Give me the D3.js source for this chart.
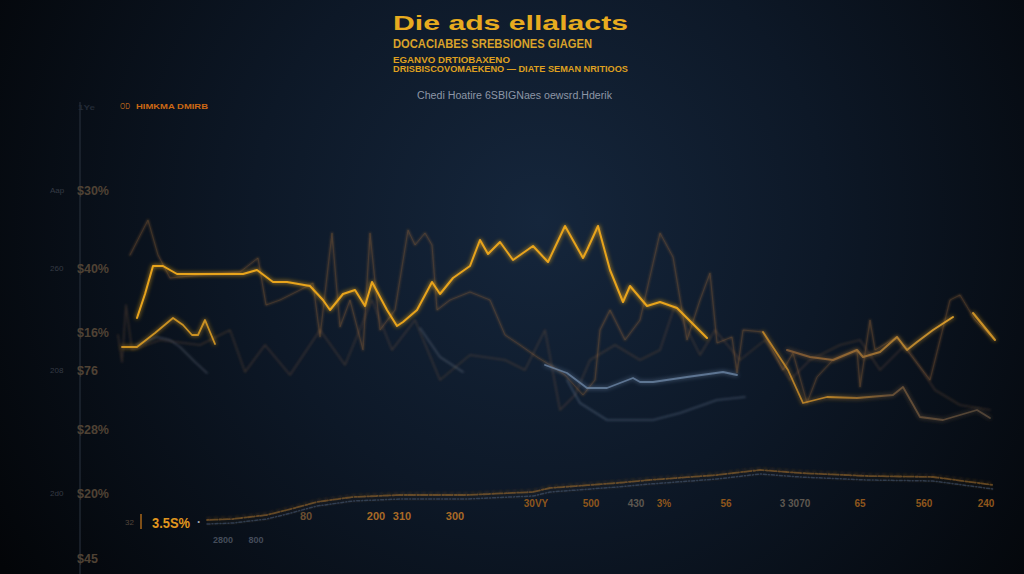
<!DOCTYPE html>
<html>
<head>
<meta charset="utf-8">
<script src="https://cdn.jsdelivr.net/npm/d3@7"></script>
<style>
body{margin:0;background:#05070b;overflow:hidden}
svg{display:block}
text{font-family:"Liberation Sans",Arial,sans-serif}
</style>
</head>
<body>
<div id="chart"></div>
<script>
// series values, [week, percent]
const goldMain = [[1.9,63],[2.7,69],[3.5,76],[4.5,76],[5.9,74],[8.5,74],[12.5,74],[13.9,75],[15.5,72],[16.9,72],[19.2,71],[20.5,67.5],[21.2,65],[22.5,69],[23.7,70],[24.7,66],[25.4,72],[26.9,65],[27.9,61],[28.5,62],[29.9,65],[31.4,72],[32.2,69],[33.5,73],[35.2,76],[36.2,82.5],[37,79],[38.2,82],[39.5,77.5],[41.5,81],[43,77],[44.7,86],[46.5,78],[46.9,80],[48,86],[49.2,75],[50.5,67],[51.2,71],[52.9,66],[54.2,67],[55.9,65.5],[58.9,58]]
const goldLow = [[0.4,55.75],[1.9,55.75],[3.7,59.25],[5.5,63],[6.5,61.25],[7.4,58.75],[8,58.75],[8.7,62.5],[9.7,56.5]]
const goldDrop = [[64.5,59.5],[67,50],[68.5,41.75],[70.9,43.25],[73.9,43],[77.5,43.75],[78.5,45.75],[80.2,38.25],[82.5,37.5],[85.9,40],[87.2,38]]
const goldRise = [[66.9,55],[69.2,53.25],[71.5,52.5],[73.9,55],[74.5,53.25],[76.2,54.5],[77.9,58.25],[78.9,55],[79.9,57],[81.5,60],[83.5,63.25]]
const goldEnd = [[85.5,64.25],[87.7,57.5]]
const blueLine = [[42.7,51.25],[44.9,49.25],[46.9,45.5],[48.9,45.5],[51.5,48],[52.2,47],[53.5,47],[56.9,48.25],[60.5,49.5],[61.9,48.75]]
const greyLow = [[44.9,47.5],[46.2,41.75],[48.9,37.5],[53.5,37.5],[56.2,39.25],[59.9,42.5],[62.7,43.25]]
const greyLeft = [[1.9,56.25],[3.9,58.25],[5.2,57.5],[6.2,55.75],[7.7,52],[8.9,49.25]]
const greyMid = [[30.2,60.5],[32.2,53.25],[34.5,49.5]]
const spikesA = [[1.2,78.75],[3,87.5],[4,78.75],[5.2,73],[8.2,73.75],[12.2,74.5],[14,78],[14.8,66.25],[16.2,67.5],[18.2,70],[19.5,71.75],[20.2,58.25],[21.4,84.25],[22.2,60.75],[23.2,67.5],[24.5,55],[25.2,84.25],[26.2,60],[27.7,65],[29,85],[29.7,81.25],[30.7,84.25],[31.4,81.25],[31.9,65],[33.2,67.5],[35.2,69.5],[37.2,67.5],[38.7,58.75],[40.2,56.25],[41.9,53.25],[43.2,51.25],[44.7,48.75],[46.5,43.75],[47.7,47.5],[48.2,60],[49.2,65],[50.7,57.5],[52.2,62.5],[54.2,84.25],[55.5,78.25],[56.9,57.5],[58.2,67.5],[59.2,74.25],[59.9,56.75],[61.4,58.25],[61.9,49.25],[62.5,60],[64.5,59.5],[66.5,50],[67.5,54.25],[68.9,41.75],[69.9,48.25],[71.5,52.5],[73.9,55],[74.2,45.75],[75.2,62.5],[75.7,55],[77.9,58.25],[78.9,55],[81.2,47.5],[83.2,67.5],[84.2,68.75],[85.7,62.5],[87.2,58.75]]
const spikesB = [[0,58.75],[0.4,52],[0.8,66.25],[1.4,55],[4.2,57.5],[8.2,56.25],[11.2,60],[12.7,49.5],[14.7,56.25],[17.2,48.75],[20.2,60],[22.7,51.25],[25.4,67.5],[27.4,55],[29.7,62.5],[32.2,47.5],[35.2,53.75],[38.7,52.5],[40.7,50],[42.7,60],[44.2,40],[45.7,43.75],[47.2,52.5],[49.7,56.25],[52.2,52.5],[54.2,55],[55.7,66.25],[58.2,53.75],[59.7,60],[62.2,52.5],[64.7,57.5],[67.2,47.5],[69.2,52.5],[72.2,56.25],[74.2,57.5],[76.2,50],[78.7,56.25],[81.7,45],[84.2,41.25],[87.2,40]]
const trend = [[8.9,12.5],[11.5,12.75],[14.9,13.75],[16.9,15],[19.9,17],[23.5,18.25],[28.2,18.75],[34.9,18.75],[41.5,19.5],[43.2,20.5],[49.9,21.75],[53.2,22.5],[59.9,23.75],[64.2,25],[68.2,24.25],[74.9,23.5],[81.5,23.25],[87.5,21.25]]

// y ticks
const yTickValues = [95,75.5,59.5,50,35.25,19.25,3]
const yTickLabels = ["$30%","$40%","$16%","$76","$28%","$20%","$45"]
const yTickPrefix = ["Aap","260","","208","","2d0",""]

// x tick rows
const xTickValues = [41.8,47.3,51.8,54.6,60.8,67.7,74.2,80.6,86.8]
const xTickLabels = ["30VY","500","430","3%","56","3 3070","65","560","240"]
const xTick2Values = [18.8,25.8,28.4,33.7]
const xTick2Labels = ["80","200","310","300"]
const xTick3Values = [10.5,13.8]
const xTick3Labels = ["2800","800"]

const width = 1024, height = 574
const svg = d3.select("#chart").append("svg").attr("width",width).attr("height",height)
const defs = svg.append("defs")

//background
const bg = defs.append("radialGradient").attr("id","bg").attr("gradientUnits","userSpaceOnUse")
    .attr("cx",540).attr("cy",220).attr("r",640)
bg.selectAll("stop").data([[0,"#15263c"],[0.45,"#0d1827"],[1,"#030508"]]).join("stop")
    .attr("offset",d=>d[0]).attr("stop-color",d=>d[1])
svg.append("rect").attr("width",width).attr("height",height).attr("fill","url(#bg)")

//glow filters
function addBlur(id, dev, keep){
    const f = defs.append("filter").attr("id",id).attr("x","-20%").attr("y","-20%").attr("width","140%").attr("height","140%")
    f.append("feGaussianBlur").attr("in","SourceGraphic").attr("stdDeviation",dev).attr("result","b")
    if(keep){
        const m = f.append("feMerge")
        m.append("feMergeNode").attr("in","b")
        m.append("feMergeNode").attr("in","SourceGraphic")
    }
}
addBlur("glow",2,true)
addBlur("soft",1,false)
addBlur("haze",0.6,false)

const xScale = d3.scaleLinear().domain([0,88]).range([118,998])
const yScale = d3.scaleLinear().domain([0,100]).range([570,170])
const line = d3.line().x(d=>xScale(d[0])).y(d=>yScale(d[1]))

//axis line
svg.append("line").attr("x1",80).attr("x2",80).attr("y1",102).attr("y2",574)
    .attr("stroke","#262e3a").attr("stroke-width",1.2)

//titles
function label(txt,x,y,size,color,weight,len,anchor){
    const t = svg.append("text").attr("x",x).attr("y",y).text(txt)
        .attr("font-size",size).attr("fill",color).attr("font-weight",weight||"normal")
        .attr("text-anchor",anchor||"start")
    if(len) t.attr("textLength",len).attr("lengthAdjust","spacingAndGlyphs")
    return t
}
label("Die ads ellalacts",393,30,21,"#e7ab1f","bold",235)
label("DOCACIABES SREBSIONES GIAGEN",393,48,12,"#d9a22a","bold",199)
label("EGANVO DRTIOBAXENO",393,63,8.5,"#dfa020","bold",117)
label("DRISBISCOVOMAEKENO — DIATE SEMAN NRITIOOS",393,72,8.5,"#dfa020","bold",235)
label("Chedi Hoatire 6SBIGNaes oewsrd.Hderik",417,99,10,"#8d96a6","normal",195)
label("OD",120,109,8.5,"#b0601a","normal",10)
label("HIMKMA DMIRB",136,109,8,"#cc6814","bold",72)
label("1Ye",78,110,8,"#222a36","bold",17)

//y axis labels
const yAxis = d3.axisRight(yScale).tickValues(yTickValues).tickFormat((d,i)=>yTickLabels[i]).tickSize(0).tickPadding(0)
const yArea = svg.append("g").attr("transform","translate(77,0)").call(yAxis)
yArea.select(".domain").remove()
yArea.selectAll("text").attr("fill","#4f4234").attr("font-size",12.5).attr("font-weight","bold").attr("font-family","Liberation Sans, Arial")
svg.selectAll("text.pref").data(yTickValues.filter((d,i)=>yTickPrefix[i])).join("text").attr("class","pref")
    .attr("x",50).attr("y",d=>yScale(d)+3).attr("font-size",8).attr("fill","#353a44")
    .text(d=>yTickPrefix[yTickValues.indexOf(d)])

//series
function drawSeries(data,color,w,op,filter){
    return svg.append("path").datum(data).attr("d",line).attr("fill","none")
        .attr("stroke",color).attr("stroke-width",w).attr("stroke-opacity",op)
        .attr("stroke-linejoin","round").attr("stroke-linecap","round")
        .attr("filter",filter ? `url(#${filter})` : null)
}
drawSeries(spikesB,"#8a6040",1.6,0.3,"soft")
drawSeries(spikesA,"#a06a36",1.8,0.38,"soft")
drawSeries(spikesA,"#a87438",0.7,0.28,null)
drawSeries(greyLeft,"#666c7c",1.5,0.5,"soft")
drawSeries(greyMid,"#626b7c",1.5,0.5,"soft")
drawSeries(greyLow,"#56667e",1.6,0.55,"soft")
drawSeries(blueLine,"#6c84a4",1.8,0.8,"glow")

const rg = defs.append("linearGradient").attr("id","rise").attr("gradientUnits","userSpaceOnUse")
    .attr("x1",xScale(goldRise[0][0])).attr("x2",xScale(goldRise[goldRise.length-1][0])).attr("y1",0).attr("y2",0)
rg.selectAll("stop").data([[0,"#7a5634"],[0.5,"#9a6e34"],[1,"#e0a22a"]]).join("stop")
    .attr("offset",d=>d[0]).attr("stop-color",d=>d[1])
const dg = defs.append("linearGradient").attr("id","drop").attr("gradientUnits","userSpaceOnUse")
    .attr("x1",xScale(goldDrop[0][0])).attr("x2",xScale(goldDrop[goldDrop.length-1][0])).attr("y1",0).attr("y2",0)
dg.selectAll("stop").data([[0,"#c08628"],[0.3,"#c08628"],[0.55,"#6e5438"],[1,"#544638"]]).join("stop")
    .attr("offset",d=>d[0]).attr("stop-color",d=>d[1])

drawSeries(goldDrop,"url(#drop)",1.8,0.9,"glow")
drawSeries(goldRise,"url(#rise)",2,0.95,"glow")
drawSeries(goldEnd,"#d89a28",2,0.9,"glow")
drawSeries(goldLow,"#d89a22",1.8,0.9,"glow")
drawSeries(goldMain,"#e8a41c",2,1,"glow")

//bottom trend band, fuzzy
const area = d3.area().x(d=>xScale(d[0])).y0(d=>yScale(d[1]-1.5)).y1(d=>yScale(d[1]+0.5))
svg.append("path").datum(trend).attr("d",area).attr("fill","#a06a2a").attr("fill-opacity",0.06)
drawSeries(trend,"#4e6280",1.5,0.5,"haze").attr("transform","translate(0,4)").attr("stroke-dasharray","3,2,1,2")
drawSeries(trend,"#a8722e",1.8,0.55,"haze").attr("stroke-dasharray","2,1.5,5,1,1,2")
drawSeries(trend,"#7a5028",1,0.5,"soft").attr("transform","translate(0,-2)").attr("stroke-dasharray","4,3")

//bottom labels
function tickRow(vals,labels,level,size,color){
    svg.append("g").selectAll("text").data(vals).join("text")
        .attr("x",d=>xScale(d)).attr("y",yScale(level)).attr("text-anchor","middle")
        .attr("font-size",size).attr("font-weight","bold").attr("fill",(d,i)=>typeof color=="function"?color(i):color)
        .text((d,i)=>labels[i])
}
tickRow(xTickValues,xTickLabels,15.75,10,i=>xTickLabels[i]=="430"||xTickLabels[i]=="3 3070"?"#5e5850":"#8e561c")
tickRow(xTick2Values,xTick2Labels,12.5,11,i=>i==0?"#6a4e30":"#a86a26")
tickRow(xTick3Values,xTick3Labels,6.75,9,"#444c5a")

//highlight value
label("32",125,525,8,"#54463a","normal")
svg.append("line").attr("x1",141).attr("x2",141).attr("y1",514).attr("y2",529).attr("stroke","#a8661a").attr("stroke-width",1.5)
label("3.5S%",152,528,15,"#e0961e","bold",38)
label("·",197,526,12,"#a0a8b4","bold")
</script>
</body>
</html>
